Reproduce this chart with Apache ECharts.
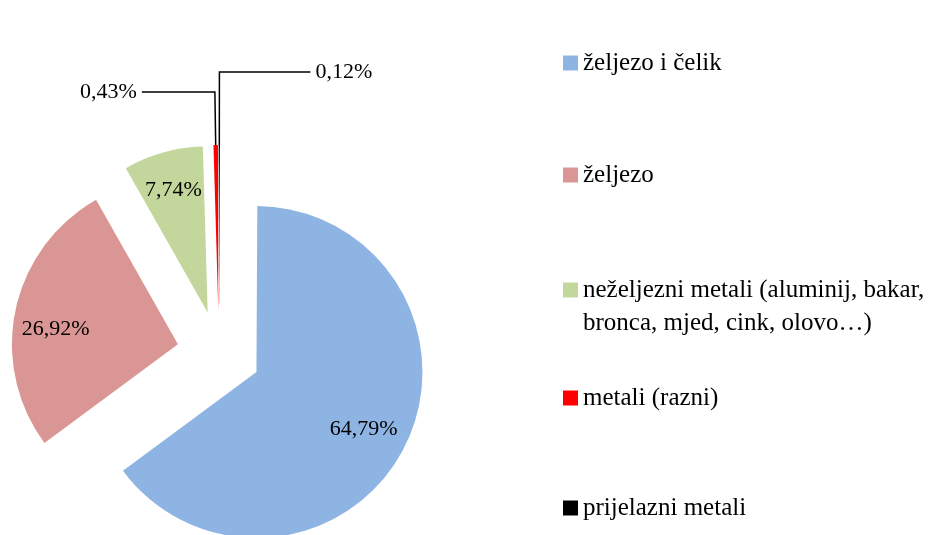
<!DOCTYPE html>
<html>
<head>
<meta charset="utf-8">
<script src="https://cdn.jsdelivr.net/npm/echarts@6/dist/echarts.min.js"></script>
<style>
  html, body { margin: 0; padding: 0; background: #fff; }
  #chart { width: 944px; height: 535px; }
</style>
</head>
<body>
<div id="chart"></div>
<script>
// udjeli po vrsti metala (%)
const categories = [
  "željezo i čelik",
  "željezo",
  "neželjezni metali (aluminij, bakar, bronca, mjed, cink, olovo…)",
  "metali (razni)",
  "prijelazni metali"
];
const shares = [64.79, 26.92, 7.74, 0.43, 0.12];
const colors = ["#8EB4E3", "#D99694", "#C3D69B", "#FF0000", "#000000"];

// layout
const pieCenter = [219, 353];
const pieRadius = 166;
const explode = 42;
const legendRowCenters = [63, 175, 290, 398, 508];
const legendLineHeight = 33;

const fontFamily = "'Liberation Serif', 'Times New Roman', serif";
const fmtPct = (v) => v.toFixed(2).replace(".", ",") + "%";

// labels outside only for the tiny slices
const outsideLabel = {
  3: { length: 53, length2: 73 },
  4: { length: 73, length2: 91 }
};
// small nudges of the inside labels (Excel doesn't sit them exactly on the mid angle)
const insideNudge = { 0: [-6, 0], 1: [2, 11] };

const sliceData = categories.map((name, i) => {
  const item = {
    name: name,
    value: shares[i],
    selected: true,
    itemStyle: { color: colors[i] }
  };
  if (outsideLabel[i]) {
    item.label = { show: true, position: "outside" };
    item.labelLine = {
      show: true,
      length: outsideLabel[i].length,
      length2: outsideLabel[i].length2,
      lineStyle: { color: "#000", width: 1.5 }
    };
  }
  return item;
});

// transparent copy, only carries the inside labels a bit further out
const labelData = categories.map((name, i) => ({
  name: name,
  value: shares[i],
  selected: true,
  itemStyle: { color: "rgba(0,0,0,0)" },
  label: { show: i < 3 }
}));

const legends = categories.map((name, i) => {
  const wrapped = name.indexOf("bakar, ") >= 0;
  // empty first line keeps the marker level with the first text line
  const extra = wrapped ? legendLineHeight : 0;
  return {
    data: [name],
    orient: "vertical",
    left: 563,
    top: legendRowCenters[i] - legendLineHeight / 2 - extra,
    padding: 0,
    itemWidth: 15,
    itemHeight: 15,
    icon: "rect",
    selectedMode: false,
    formatter: (n) => wrapped ? "\n" + n.replace("bakar, ", "bakar,\n") : n,
    textStyle: {
      fontFamily: fontFamily,
      fontSize: 25,
      lineHeight: legendLineHeight,
      color: "#000"
    }
  };
});

const chart = echarts.init(document.getElementById("chart"));
chart.setOption({
  backgroundColor: "#fff",
  animation: false,
  color: colors,
  legend: legends,
  series: [
    {
      type: "pie",
      center: pieCenter,
      radius: pieRadius,
      startAngle: 89.7,
      clockwise: true,
      selectedMode: "multiple",
      selectedOffset: explode,
      avoidLabelOverlap: false,
      silent: true,
      emphasis: { scale: false },
      itemStyle: { borderWidth: 0 },
      label: {
        show: false,
        formatter: (p) => fmtPct(p.value),
        fontFamily: fontFamily,
        fontSize: 22,
        color: "#000"
      },
      labelLine: { show: false },
      data: sliceData
    },
    {
      type: "pie",
      center: pieCenter,
      radius: [82, pieRadius],
      startAngle: 89.7,
      clockwise: true,
      selectedMode: "multiple",
      selectedOffset: explode,
      silent: true,
      emphasis: { scale: false },
      itemStyle: { borderWidth: 0 },
      label: {
        position: "inside",
        formatter: (p) => fmtPct(p.value),
        fontFamily: fontFamily,
        fontSize: 22,
        color: "#000"
      },
      labelLine: { show: false },
      labelLayout: (p) => {
        const n = insideNudge[p.dataIndex];
        return n ? { dx: n[0], dy: n[1] } : {};
      },
      data: labelData
    }
  ]
});
</script>
</body>
</html>
